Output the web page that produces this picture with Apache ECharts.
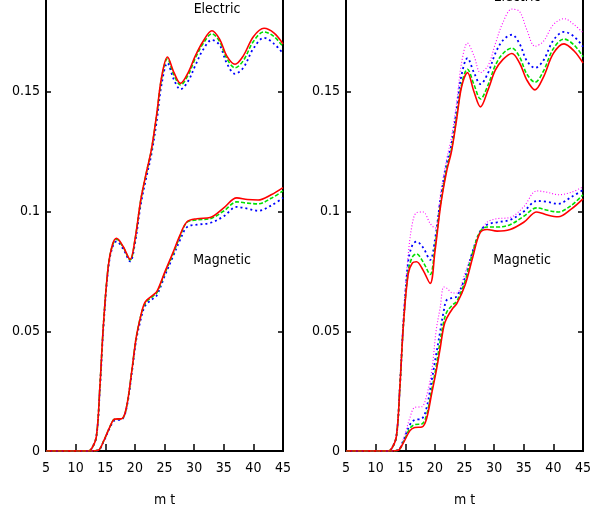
<!DOCTYPE html>
<html><head><meta charset="utf-8">
<script src="https://cdn.jsdelivr.net/npm/echarts@6/dist/echarts.min.js"></script>
<style>html,body{margin:0;padding:0;background:#fff}#c{width:600px;height:510px}</style>
</head><body><div id="c"></div>
<script>
// x samples (m t)
const xElectric = [5,10,12,12.7,13.5,14.1,14.7,15.5,16.2,16.9,18,19.2,20,21,22,22.8,23.7,24.5,25.5,26.6,27.7,29,30.2,31.5,33,34.3,35.5,36.9,38.3,40,41.8,43.5,45];
const xMagnetic = [5,10,12.5,13.8,14.7,15.8,16.6,17.8,18.6,19.5,20.2,20.9,21.5,22,23,23.7,25.1,26.4,27.6,28.8,30.5,32.7,35,37.2,39,40.8,43,45];

// Left panel
const leftElecRed   = [0,0,0,0.001,0.006,0.027,0.053,0.077,0.086,0.0888,0.0855,0.080,0.088,0.105,0.117,0.126,0.141,0.156,0.1645,0.158,0.1535,0.158,0.165,0.171,0.1755,0.172,0.165,0.1615,0.165,0.173,0.1765,0.1745,0.170];
const leftElecGreen = [0,0,0,0.001,0.006,0.027,0.053,0.077,0.0858,0.0884,0.0852,0.0798,0.0878,0.1048,0.1168,0.1258,0.1405,0.1555,0.1638,0.157,0.1528,0.157,0.164,0.170,0.1742,0.171,0.164,0.160,0.163,0.171,0.175,0.173,0.1688];
const leftElecBlue  = [0,0,0,0.001,0.006,0.026,0.052,0.076,0.085,0.0875,0.0845,0.0792,0.0865,0.103,0.115,0.124,0.138,0.153,0.162,0.155,0.151,0.1545,0.161,0.1675,0.1716,0.1695,0.162,0.1575,0.160,0.168,0.1725,0.170,0.166];
const leftMagRed    = [0,0,0,0.0003,0.004,0.0102,0.0133,0.0135,0.0185,0.0338,0.047,0.0555,0.061,0.063,0.065,0.0665,0.075,0.0826,0.090,0.0957,0.097,0.0975,0.1015,0.1057,0.1050,0.1048,0.107,0.110];
const leftMagGreen  = [0,0,0,0.0003,0.004,0.0102,0.0133,0.0135,0.0185,0.0338,0.047,0.0555,0.0605,0.0625,0.0645,0.066,0.0745,0.082,0.0895,0.0955,0.0965,0.097,0.1002,0.104,0.1035,0.1032,0.1055,0.1086];
const leftMagBlue   = [0,0,0,0.0003,0.0038,0.0098,0.0128,0.0132,0.018,0.033,0.046,0.054,0.0595,0.0615,0.0635,0.065,0.0735,0.081,0.088,0.0935,0.0945,0.0952,0.098,0.1019,0.1012,0.1003,0.1025,0.1057];

// Right panel
const rightElecRed     = [0,0,0,0.001,0.006,0.027,0.053,0.074,0.0785,0.079,0.0755,0.070,0.083,0.103,0.117,0.125,0.139,0.152,0.158,0.150,0.1437,0.151,0.159,0.1635,0.166,0.162,0.155,0.1508,0.156,0.166,0.170,0.167,0.162];
const rightElecGreen   = [0,0,0,0.001,0.006,0.027,0.053,0.075,0.081,0.0823,0.079,0.0737,0.085,0.104,0.118,0.126,0.140,0.153,0.1594,0.153,0.147,0.153,0.161,0.166,0.1682,0.1645,0.1575,0.154,0.1585,0.168,0.172,0.1695,0.1646];
const rightElecBlue    = [0,0,0,0.001,0.006,0.027,0.054,0.079,0.086,0.0874,0.085,0.0798,0.088,0.106,0.120,0.128,0.143,0.157,0.164,0.158,0.1532,0.158,0.166,0.1715,0.1738,0.170,0.163,0.160,0.163,0.1715,0.175,0.173,0.1688];
const rightElecMagenta = [0,0,0,0.0012,0.007,0.029,0.057,0.082,0.095,0.0995,0.0998,0.095,0.093,0.108,0.122,0.131,0.146,0.162,0.1703,0.165,0.158,0.161,0.170,0.179,0.1845,0.1835,0.176,0.169,0.171,0.178,0.1805,0.178,0.1746];
const rightMagRed      = [0,0,0,0.0003,0.0035,0.0085,0.0098,0.0100,0.0135,0.0245,0.033,0.043,0.052,0.0555,0.0595,0.0615,0.0693,0.081,0.091,0.0925,0.0918,0.0925,0.0955,0.0998,0.0985,0.0978,0.101,0.1053];
const rightMagGreen    = [0,0,0,0.0003,0.0038,0.0095,0.011,0.0113,0.015,0.026,0.035,0.046,0.054,0.058,0.061,0.0625,0.071,0.083,0.0915,0.0935,0.0935,0.0945,0.098,0.1015,0.1005,0.0998,0.1025,0.107];
const rightMagBlue     = [0,0,0,0.0004,0.0045,0.011,0.013,0.0135,0.018,0.030,0.040,0.050,0.0585,0.063,0.064,0.0645,0.0725,0.0835,0.0915,0.0945,0.0955,0.0965,0.100,0.1044,0.104,0.1032,0.106,0.109];
const rightMagMagenta  = [0,0,0,0.0005,0.005,0.014,0.0182,0.0185,0.023,0.034,0.050,0.060,0.0685,0.068,0.066,0.066,0.0743,0.0835,0.091,0.0955,0.097,0.0975,0.102,0.1086,0.108,0.107,0.108,0.1103];

const xTicks = {min:5, max:45, interval:5};
const yTicks = {min:0, max:0.2, interval:0.05};
const xTitle = 'm t';
const labelElectric = 'Electric';
const labelMagnetic = 'Magnetic';

const FONT = "'DejaVu Sans Condensed','Liberation Sans Narrow',sans-serif";
const FS = 14;
const styles = {
  red:     {color:'#ff0000', width:1.6, type:'solid'},
  green:   {color:'#00e000', width:1.6, type:[4,2]},
  blue:    {color:'#0000ff', width:1.8, type:[2,3]},
  magenta: {color:'#ff00ff', width:1.1, type:[1,2]}
};
function pairs(xs, ys){ return xs.map((x,i)=>[x, ys[i]]); }
function mk(gi, xs, ys, st){
  return {type:'line', xAxisIndex:gi, yAxisIndex:gi*2, data:pairs(xs,ys), showSymbol:false, smooth:0.35,
    lineStyle:{color:st.color, width:st.width, type:st.type}, itemStyle:{color:st.color}, silent:true};
}
function xAx(gi){
  return {gridIndex:gi, type:'value', min:xTicks.min, max:xTicks.max, interval:xTicks.interval,
    axisLine:{show:true, lineStyle:{color:'#000', width:2}},
    axisTick:{show:true, inside:true, length:7, lineStyle:{color:'#000', width:1.5}},
    axisLabel:{color:'#000', fontFamily:FONT, fontSize:FS, margin:10},
    splitLine:{show:false},
    name:xTitle, nameLocation:'middle', nameGap:42,
    nameTextStyle:{color:'#000', fontFamily:FONT, fontSize:FS}};
}
function yAx(gi, right){
  return {gridIndex:gi, type:'value', position: right?'right':'left', min:yTicks.min, max:yTicks.max, interval:yTicks.interval,
    axisLine:{show:true, lineStyle:{color:'#000', width:2}},
    axisTick:{show:true, inside:true, length:5, lineStyle:{color:'#000', width:1.5}},
    axisLabel:{show:!right, showMaxLabel:false, color:'#000', fontFamily:FONT, fontSize:FS, margin:6},
    splitLine:{show:false}};
}
const chart = echarts.init(document.getElementById('c'), null, {renderer:'canvas'});
chart.setOption({
  animation:false,
  backgroundColor:'#fff',
  grid:[
    {left:46, width:237, top:-28, bottom:59, outerBoundsMode:'none', containLabel:false, show:true, borderColor:'#000', borderWidth:2, backgroundColor:'transparent'},
    {left:346, width:237, top:-28, bottom:59, outerBoundsMode:'none', containLabel:false, show:true, borderColor:'#000', borderWidth:2, backgroundColor:'transparent'}
  ],
  xAxis:[xAx(0), xAx(1)],
  yAxis:[yAx(0,false), yAx(0,true), yAx(1,false), yAx(1,true)],
  series:[
    mk(0, xElectric, leftElecBlue, styles.blue),
    mk(0, xElectric, leftElecGreen, styles.green),
    mk(0, xElectric, leftElecRed, styles.red),
    mk(0, xMagnetic, leftMagBlue, styles.blue),
    mk(0, xMagnetic, leftMagGreen, styles.green),
    mk(0, xMagnetic, leftMagRed, styles.red),
    mk(1, xElectric, rightElecMagenta, styles.magenta),
    mk(1, xElectric, rightElecBlue, styles.blue),
    mk(1, xElectric, rightElecGreen, styles.green),
    mk(1, xElectric, rightElecRed, styles.red),
    mk(1, xMagnetic, rightMagMagenta, styles.magenta),
    mk(1, xMagnetic, rightMagBlue, styles.blue),
    mk(1, xMagnetic, rightMagGreen, styles.green),
    mk(1, xMagnetic, rightMagRed, styles.red)
  ],
  graphic:[
    {type:'text', x:217, y:9, style:{text:labelElectric, fill:'#000', font:FS+'px '+FONT, textAlign:'center', textVerticalAlign:'middle'}},
    {type:'text', x:222, y:260, style:{text:labelMagnetic, fill:'#000', font:FS+'px '+FONT, textAlign:'center', textVerticalAlign:'middle'}},
    {type:'text', x:517, y:-3, style:{text:labelElectric, fill:'#000', font:FS+'px '+FONT, textAlign:'center', textVerticalAlign:'middle'}},
    {type:'text', x:522, y:260, style:{text:labelMagnetic, fill:'#000', font:FS+'px '+FONT, textAlign:'center', textVerticalAlign:'middle'}}
  ]
});
</script>
</body></html>
